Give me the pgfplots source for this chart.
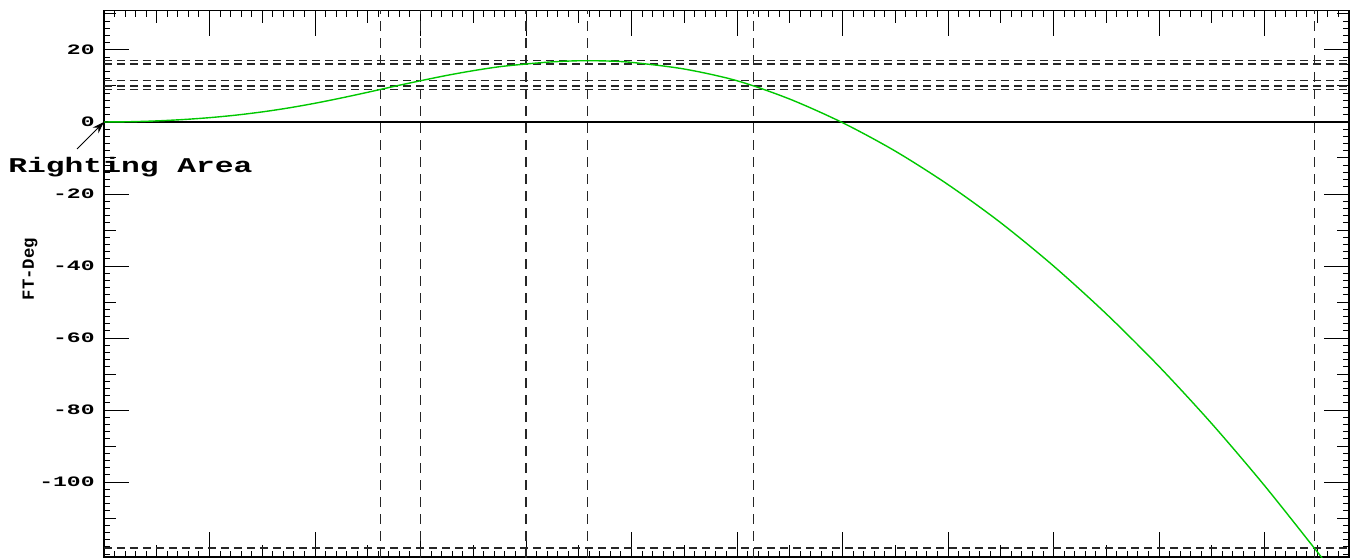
\documentclass[border=0pt]{standalone}
\usepackage{pgfplots}
\pgfplotsset{compat=1.18}
\usepackage{fontspec}
\setmonofont{Liberation Mono}
\usetikzlibrary{arrows.meta}
\definecolor{curvegreen}{RGB}{0,200,0}
\newcommand\tl[1]{\scalebox{1.6}[1]{\fontsize{7.2}{8}\selectfont\ttfamily\bfseries #1}}
\begin{document}
\begin{tikzpicture}
\path[use as bounding box] (-52pt,-1pt) rectangle (625.5pt,278.5pt);
\begin{axis}[at={(0pt,0pt)}, anchor=south west, scale only axis,
  width=622.5pt, height=273.15pt,
  xmin=0, xmax=118, ymin=-120.8, ymax=30.9,
  axis line style={line width=0.7pt},
  tick align=inside, tick pos=both, yticklabel pos=left,
  xtick={0,10,...,110}, xticklabels={}, minor xtick={0,1,...,118},
  extra x ticks={5,15,...,115}, extra x tick labels={},
  extra x tick style={major tick length=6pt},
  ytick={-100,-80,...,20},
  yticklabels={\tl{-100},\tl{-80},\tl{-60},\tl{-40},\tl{-20},\tl{0},\tl{20}},
  minor ytick={-120,-118,...,30},
  extra y ticks={-110,-90,...,30}, extra y tick labels={},
  extra y tick style={major tick length=6pt},
  major tick length=12.5pt, minor tick length=3pt,
  every tick/.style={black, line width=0.5pt},
  yticklabel style={inner sep=0pt, xshift=-4.5pt},
  dlh/.style={black!85, line width=0.55pt, dash pattern=on 4pt off 2.5pt},
  dlv/.style={black!85, line width=0.55pt, dash pattern=on 5pt off 3.5pt},
]
\addplot[black, line width=0.6pt] coordinates {(0,0)(118,0)};
\addplot[dlh] coordinates {(0,9.1)(118,9.1)};
\addplot[dlh] coordinates {(0,10.0)(118,10.0)};
\addplot[dlh] coordinates {(0,11.5)(118,11.5)};
\addplot[dlh] coordinates {(0,16.1)(118,16.1)};
\addplot[dlh] coordinates {(0,17.0)(118,17.0)};
\addplot[dlh] coordinates {(0,-118.3)(118,-118.3)};
\addplot[dlv] coordinates {(26.2,-121)(26.2,31)};
\addplot[dlv] coordinates {(30.0,-121)(30.0,31)};
\addplot[dlv] coordinates {(40.0,-121)(40.0,31)};
\addplot[dlv] coordinates {(45.8,-121)(45.8,31)};
\addplot[dlv] coordinates {(61.6,-121)(61.6,31)};
\addplot[dlv] coordinates {(114.7,-121)(114.7,31)};
\addplot[curvegreen, line width=0.7pt, smooth] coordinates {
(0,0)(2.5,0.075)(5,0.3)(7.5,0.675)(10,1.2)(12.5,1.9)(15,2.8)(17.5,3.9)
(20,5.2)(22.5,6.67)(25,8.25)(27.5,9.89)(30,11.45)(32.5,12.94)(35,14.25)
(37.5,15.35)(40,16.1)(42.5,16.7)(45,17.0)(47.5,16.95)(50,16.55)(55,14.7)
(60,11.45)(65,6.35)(70,-0.2)(75,-8.1)(80,-17.4)(85,-28.0)(90,-40.0)
(95,-53.3)(100,-67.9)(105,-83.8)(110,-101.0)(115,-119.4)(115.5,-121.35)};
\coordinate (o) at (axis cs:0,0);
\end{axis}
\draw[black, line width=0.5pt, -{Stealth[length=6pt,width=4pt]}] ([shift={(-13.5pt,-13.5pt)}]o) -- (o);
\node[anchor=base west, inner sep=0pt] at (-48pt,192.5pt)
  {\scalebox{1.49}[1]{\fontsize{10.5}{12}\selectfont\ttfamily\bfseries Righting Area}};
\node[rotate=90, inner sep=0pt] at (-37pt,144pt)
  {\scalebox{1.02}[1]{\fontsize{8.5}{9}\selectfont\ttfamily\bfseries FT-Deg}};
\end{tikzpicture}
\end{document}
